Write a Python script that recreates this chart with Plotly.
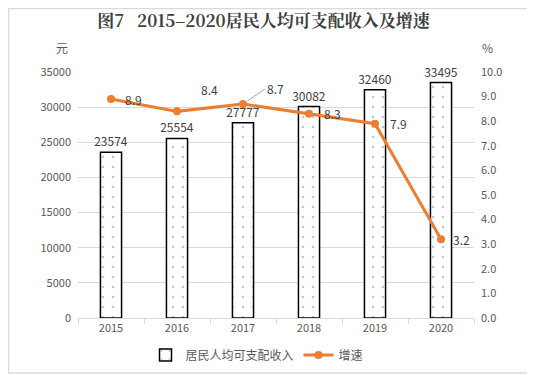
import plotly.graph_objects as go

years = ["2015", "2016", "2017", "2018", "2019", "2020"]
income = [23574, 25554, 27777, 30082, 32460, 33495]
growth = [8.9, 8.4, 8.7, 8.3, 7.9, 3.2]
left_ticks = [0, 5000, 10000, 15000, 20000, 25000, 30000, 35000]
right_ticks = [0, 1, 2, 3, 4, 5, 6, 7, 8, 9, 10]

# page is drawn with an 8px body margin, so figure coords = page coords - 8
OFF = 8
W, H = 535 - OFF, 375 - OFF
L, T = 78 - OFF, 72 - OFF
pw, ph = 396, 246
R, B = W - L - pw, H - T - ph

def px(x):  # page x -> paper x
    return (x - OFF - L) / pw

def py(y):  # page y -> paper y
    return (T + ph - (y - OFF)) / ph

FONT = "Noto Sans CJK SC"
GRAY = "#595959"
ORANGE = "#ED7D31"

fig = go.Figure()
fig.add_trace(go.Bar(
    x=years, y=income, name="居民人均可支配收入",
    width=0.32,
    marker=dict(color="white", line=dict(color="black", width=1.5),
                pattern=dict(shape=".", fgcolor="#6F8FB8", bgcolor="white", size=10, solidity=0.05)),
    text=[str(v) for v in income], textposition="outside", cliponaxis=False,
    constraintext="none",
    textfont=dict(family=FONT, size=12, color="#404040"),
))
fig.add_trace(go.Scatter(
    x=years, y=growth, name="增速", yaxis="y2", mode="lines+markers",
    line=dict(color=ORANGE, width=3), marker=dict(color=ORANGE, size=8),
))

# growth labels (x given as category index)
offsets = [(12, 0, None), (22, -22, None), (22, -15, True), (13, 0, None), (13, 0, None), (10, 0, None)]
for i, (g, (ax, ay, arrow)) in enumerate(zip(growth, offsets)):
    if arrow:
        fig.add_annotation(x=i, y=g, xref="x", yref="y2", text=f"{g:.1f}", showarrow=True,
                           arrowhead=0, arrowwidth=1, arrowcolor="#A6A6A6", ax=ax, ay=ay,
                           xanchor="left", standoff=5,
                           font=dict(family=FONT, size=12, color="#404040"))
    else:
        fig.add_annotation(x=i, y=g, xref="x", yref="y2", text=f"{g:.1f}", showarrow=False,
                           xanchor="left", xshift=ax, yshift=-ay,
                           font=dict(family=FONT, size=12, color="#404040"))

fig.add_annotation(x=px(62), y=py(47), xref="paper", yref="paper", text="元",
                   xanchor="center", yanchor="middle",
                   showarrow=False, font=dict(family=FONT, size=12, color=GRAY))
fig.add_annotation(x=px(487), y=py(47), xref="paper", yref="paper", text="%",
                   xanchor="center", yanchor="middle",
                   showarrow=False, font=dict(family=FONT, size=12, color=GRAY))

fig.add_shape(type="rect", xref="paper", yref="paper",
              x0=px(8.5), x1=px(533), y0=py(373), y1=py(8.5),
              line=dict(color="#D9D9D9", width=1.5), layer="below")

fig.update_layout(
    width=W, height=H, margin=dict(l=L, r=R, t=T, b=B, autoexpand=False),
    paper_bgcolor="white", plot_bgcolor="white",
    title=dict(text="<b>图7   2015–2020居民人均可支配收入及增速</b>", x=px(270), xanchor="center",
               y=1 - (21 - OFF) / H, yanchor="middle",
               font=dict(family="Noto Serif CJK SC, " + FONT, size=17, color="#404040")),
    font=dict(family=FONT, size=11, color=GRAY),
    xaxis=dict(type="category", showline=True, linecolor="#D9D9D9", linewidth=1,
               ticks="outside", tickson="boundaries", tickcolor="#D9D9D9", ticklen=5,
               tickfont=dict(size=11, color=GRAY), range=[-0.5, 5.5]),
    yaxis=dict(range=[0, 35000], tickvals=left_ticks, ticktext=[str(v) for v in left_ticks],
               showgrid=True, gridcolor="#D9D9D9", ticklabelstandoff=6,
               zeroline=False, tickfont=dict(size=11, color=GRAY)),
    yaxis2=dict(range=[0, 10], tickvals=right_ticks, tickformat=".1f", overlaying="y", side="right",
                showgrid=False, zeroline=False, ticklabelstandoff=6,
                tickfont=dict(size=11, color=GRAY)),
    legend=dict(orientation="h", x=px(257), xanchor="center", y=py(355), yanchor="middle",
                font=dict(family=FONT, size=12, color=GRAY), itemwidth=30, tracegroupgap=0),
    showlegend=True,
)

fig.write_html("out.html")
